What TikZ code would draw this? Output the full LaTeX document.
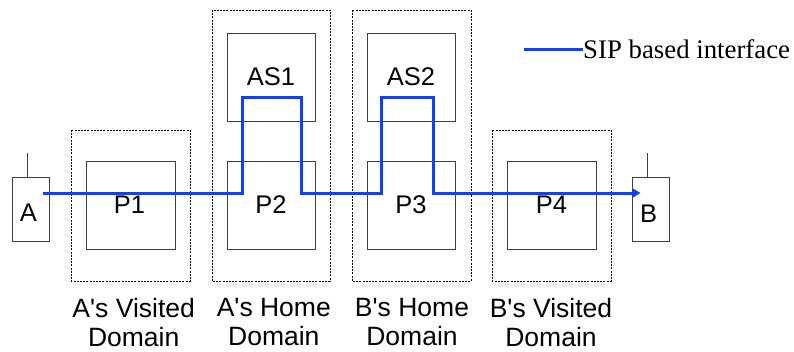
\documentclass[tikz,border=0pt]{standalone}
\usepackage{fontspec}
\newfontfamily\arialfont{Liberation Sans}
\newfontfamily\legendfont{Liberation Serif}
\usetikzlibrary{arrows.meta}
\definecolor{sipblue}{RGB}{16,64,255}
\definecolor{boxgray}{RGB}{64,64,64}
\begin{document}
\begin{tikzpicture}[x=1pt,y=-1pt,
  elem/.style={draw=boxgray,line width=1pt},
  domainbox/.style={draw=black,line width=0.8pt,dash pattern=on 2pt off 1.2pt},
  lbl/.style={font=\arialfont\fontsize{25.5}{29}\selectfont,inner sep=0pt},
  dlbl/.style={font=\arialfont\fontsize{26.5}{29}\selectfont,align=center,inner sep=0pt,anchor=north},
  sip/.style={draw=sipblue,line width=3pt}]
\useasboundingbox (0,0) rectangle (794,351);
% domains
\draw[domainbox] (71,130) rectangle (190,281);
\draw[domainbox] (212,10) rectangle (330,281);
\draw[domainbox] (352,10) rectangle (471,281);
\draw[domainbox] (492,130) rectangle (611,281);
% elements
\node[elem,minimum width=88.5pt,minimum height=87.3pt,inner sep=0pt] (P1) at (130.75,205.35) {};
\node[elem,minimum width=88pt,minimum height=87.3pt,inner sep=0pt] (AS1) at (271,77.35) {};
\node[elem,minimum width=88pt,minimum height=87.3pt,inner sep=0pt] (P2) at (271,205.35) {};
\node[elem,minimum width=88pt,minimum height=87.3pt,inner sep=0pt] (AS2) at (411,77.35) {};
\node[elem,minimum width=88pt,minimum height=87.3pt,inner sep=0pt] (P3) at (411,205.35) {};
\node[elem,minimum width=89.3pt,minimum height=87.3pt,inner sep=0pt] (P4) at (551.65,205.35) {};
\node[elem,minimum width=37.4pt,minimum height=63.6pt,inner sep=0pt] (A) at (31,209.5) {};
\node[elem,minimum width=37.4pt,minimum height=63.6pt,inner sep=0pt] (B) at (651,209.5) {};
% antennas
\coordinate (Aant) at (27,153);
\coordinate (Bant) at (647.3,153);
\draw[elem] (Aant) -- (Aant |- A.north);
\draw[elem] (Bant) -- (Bant |- B.north);
% labels
\node[lbl] at (129.5,205) {P1};
\node[lbl] at (271,205) {P2};
\node[lbl] at (411,205) {P3};
\node[lbl] at (551.5,205) {P4};
\node[lbl] at (271,77) {AS1};
\node[lbl] at (411,77) {AS2};
\node[lbl] at (28.3,212.5) {A};
\node[lbl] at (648.7,213.3) {B};
% domain labels
\node[dlbl] at (133.7,298.5) {A's Visited\\Domain};
\node[dlbl] at (273.8,298.5) {A's Home\\Domain};
\node[dlbl] at (412,298.5) {B's Home\\Domain};
\node[dlbl] at (551,298.5) {B's Visited\\Domain};
% SIP path
\coordinate (s) at (43,193);
\coordinate (e) at (640.5,193);
\draw[sip,-{Triangle[length=8pt,width=9pt]}] (s) -- (242,193) -- (242,97.3) -- (301,97.3) -- (301,193) -- (381.7,193) -- (381.7,97.3) -- (433.3,97.3) -- (433.3,193) -- (e);
% legend
\coordinate (l1) at (524,49.3);
\coordinate (l2) at (583,49.3);
\draw[sip] (l1) -- (l2);
\node[anchor=west,inner sep=0pt,font=\legendfont\fontsize{26.8}{30}\selectfont] (legtxt) at (l2) {SIP based interface};
\end{tikzpicture}
\end{document}
